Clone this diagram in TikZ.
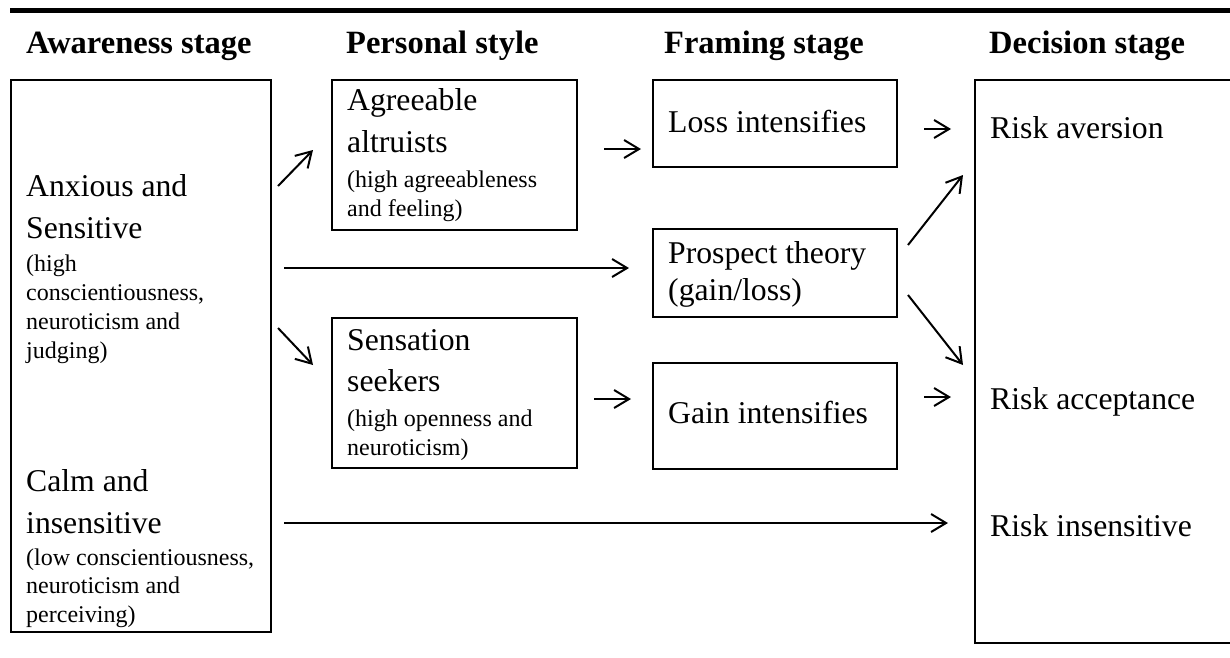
\documentclass[tikz,border=0pt]{standalone}
\usepackage{fontspec}
\setmainfont{Liberation Serif}
\usetikzlibrary{arrows.meta}
\tikzset{
  box/.style={draw, line width=2.2pt, inner sep=0pt, outer sep=0pt, anchor=north west},
  big/.style={font=\fontsize{31.7}{36}\selectfont, anchor=base west, inner sep=0pt},
  sml/.style={font=\fontsize{24}{28}\selectfont, anchor=base west, inner sep=0pt},
  hdr/.style={font=\bfseries\fontsize{32.5}{36}\selectfont, anchor=base west, inner sep=0pt},
  arr/.style={line width=2pt, -{Straight Barb[length=15pt,width=18pt,line width=2pt]}},
}
\begin{document}
\begin{tikzpicture}[x=1pt,y=-1pt]
\useasboundingbox (0,0) rectangle (1230,657);
\draw[line width=4.6pt] (10,10.5) -- (1240,10.5);

% headers
\node[hdr] (h1) at (26,53) {Awareness stage};
\node[hdr] (h2) at (346,53) {Personal style};
\node[hdr] (h3) at (664,53) {Framing stage};
\node[hdr] (h4) at (989,53) {Decision stage};

% boxes
\node[box, minimum width=260pt, minimum height=552pt] (aw) at (11,80) {};
\node[box, minimum width=245pt, minimum height=150pt] (agr) at (332,80) {};
\node[box, minimum width=245pt, minimum height=150pt] (sen) at (332,318) {};
\node[box, minimum width=244pt, minimum height=87pt] (loss) at (653,80) {};
\node[box, minimum width=244pt, minimum height=88pt] (pro) at (653,229) {};
\node[box, minimum width=244pt, minimum height=106pt] (gain) at (653,363) {};
\node[box, minimum width=270pt, minimum height=563pt] (dec) at (975,80) {};

% awareness texts
\node[big] (t1) at (26,196) {Anxious and};
\node[big] (t2) at (26,238) {Sensitive};
\node[sml] (t3) at (26,271) {(high};
\node[sml] (t4) at (26,300) {conscientiousness,};
\node[sml] (t5) at (26,329) {neuroticism and};
\node[sml] (t6) at (26,358) {judging)};
\node[big] (t7) at (26,491) {Calm and};
\node[big] (t8) at (26,533) {insensitive};
\node[sml] (t9) at (26,565) {(low conscientiousness,};
\node[sml] (t10) at (26,593) {neuroticism and};
\node[sml] (t11) at (26,622) {perceiving)};

% personal style texts
\node[big] (p1) at (347,110) {Agreeable};
\node[big] (p2) at (347,152) {altruists};
\node[sml] (p3) at (347,187) {(high agreeableness};
\node[sml] (p4) at (347,216) {and feeling)};
\node[big] (p5) at (347,350) {Sensation};
\node[big] (p6) at (347,391) {seekers};
\node[sml] (p7) at (347,426) {(high openness and};
\node[sml] (p8) at (347,455) {neuroticism)};

% framing texts
\node[big] (f1) at (668,132) {Loss intensifies};
\node[big] (f2) at (668,263) {Prospect theory};
\node[big] (f3) at (668,300) {(gain/loss)};
\node[big] (f4) at (668,423) {Gain intensifies};

% decision texts
\node[big] (d1) at (990,138) {Risk aversion};
\node[big] (d2) at (990,409) {Risk acceptance};
\node[big] (d3) at (990,536) {Risk insensitive};

% arrow end points
\coordinate (a1s) at (278,186); \coordinate (a1e) at (313,150);
\coordinate (a2s) at (604,149); \coordinate (a2e) at (641,149);
\coordinate (a3s) at (284,268); \coordinate (a3e) at (629,268);
\coordinate (a4s) at (278,328); \coordinate (a4e) at (313,365);
\coordinate (a5s) at (594,399); \coordinate (a5e) at (631,399);
\coordinate (a6s) at (924,129); \coordinate (a6e) at (951,129);
\coordinate (a7s) at (908,245); \coordinate (a7e) at (963,175);
\coordinate (a8s) at (908,295); \coordinate (a8e) at (963,365);
\coordinate (a9s) at (924,397); \coordinate (a9e) at (951,397);
\coordinate (a10s) at (284,523); \coordinate (a10e) at (948,523);

\draw[arr] (a1s) -- (a1e);
\draw[arr] (a2s) -- (a2e);
\draw[arr] (a3s) -- (a3e);
\draw[arr] (a4s) -- (a4e);
\draw[arr] (a5s) -- (a5e);
\draw[arr] (a6s) -- (a6e);
\draw[arr] (a7s) -- (a7e);
\draw[arr] (a8s) -- (a8e);
\draw[arr] (a9s) -- (a9e);
\draw[arr] (a10s) -- (a10e);
\end{tikzpicture}
\end{document}
